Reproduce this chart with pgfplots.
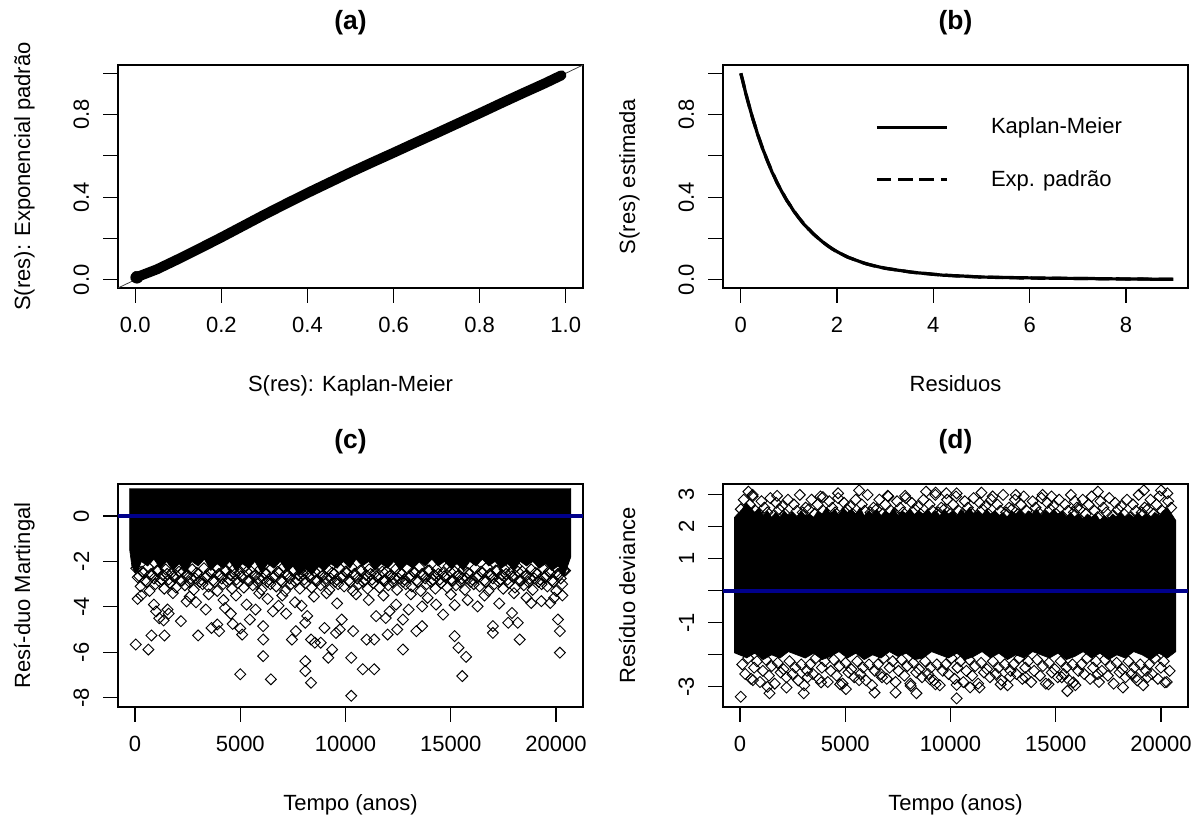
\documentclass[border=0pt]{standalone}
\usepackage{fontspec}
\setmainfont{Liberation Sans}
\usepackage{pgfplots}
\pgfplotsset{compat=1.18}
\definecolor{rblue}{RGB}{0,0,139}
\pgfplotsset{
 rpanel/.style={
  scale only axis, width=348.75pt, height=167.25pt, anchor=south west,
  axis line style={line width=0.9pt},
  tick align=outside, xtick pos=left, ytick pos=left,
  major tick length=10.9pt,
  every tick/.style={black, line width=0.9pt},
  minor tick num=0, scaled x ticks=false, scaled y ticks=false,
  xticklabel style={anchor=base, inner sep=0pt, yshift=-22.6pt},
  yticklabel style={inner sep=0pt, xshift=-10.5pt, rotate=90, anchor=south},
  every axis title/.style={at={(axis description cs:0.5,1.157)}, anchor=base, font=\bfseries\fontsize{19.8}{24}\selectfont},
  every axis x label/.style={at={(axis description cs:0.5,-0.465)}, anchor=base},
  every axis y label/.style={at={(axis description cs:-0.189,0.5)}, rotate=90, anchor=base},
 },
 rdia/.style={black, only marks, mark=square, mark size=2.9pt, mark options={rotate=45, line width=0.7pt, solid}},
}
\begin{document}
\fontsize{16.5}{19.8}\selectfont
\begin{tikzpicture}
\path[use as bounding box] (0,0) rectangle (899.25pt,615pt);
% ---------------- (a)
\begin{axis}[rpanel, at={(88.5pt,399pt)},
 xmin=-0.04, xmax=1.04, ymin=-0.04, ymax=1.04,
 xtick={0,0.2,0.4,0.6,0.8,1}, xticklabels={0.0,0.2,0.4,0.6,0.8,1.0},
 ytick={0,0.2,0.4,0.6,0.8,1}, yticklabels={0.0,,0.4,,0.8,},
 title={(a)}, xlabel={S(res): Kaplan-Meier}, ylabel={S(res): Exponencial padrão}]
\addplot[black!75, line width=0.6pt] coordinates {(-0.04,-0.04) (1.04,1.04)};
\addplot[black, line width=7.5pt, line cap=round, line join=round] coordinates {(0,0.01) (0.05,0.05) (0.1,0.1) (0.15,0.152) (0.2,0.205) (0.25,0.26) (0.3,0.315) (0.35,0.368) (0.4,0.42) (0.45,0.47) (0.5,0.52) (0.55,0.568) (0.6,0.615) (0.65,0.663) (0.7,0.71) (0.75,0.758) (0.8,0.806) (0.85,0.855) (0.9,0.903) (0.95,0.95) (0.99,0.99)};
\addplot[black, only marks, mark=*, mark size=4.5pt] coordinates {(0.004,0.012)};
\end{axis}
% ---------------- (b)
\begin{axis}[rpanel, at={(542.25pt,399pt)},
 xmin=-0.37, xmax=9.29, ymin=-0.04, ymax=1.04,
 xtick={0,2,4,6,8}, xticklabels={0,2,4,6,8},
 ytick={0,0.2,0.4,0.6,0.8,1}, yticklabels={0.0,,0.4,,0.8,},
 title={(b)}, xlabel={Residuos}, ylabel={S(res) estimada},
 legend image code/.code={\draw[#1] (0pt,0pt) -- (53pt,0pt);},
 legend style={at={(axis cs:2.786,0.611)}, anchor=west, draw=none, fill=none, inner sep=0pt, row sep=25pt, nodes={inner sep=0pt}, font=\fontsize{16.5}{19.8}\selectfont},
 legend cell align=left]
\addplot[black, line width=2.4pt, line join=round] coordinates {(0,1) (0.05,0.955) (0.1,0.905) (0.15,0.862) (0.2,0.82) (0.25,0.778) (0.3,0.743) (0.35,0.703) (0.4,0.672) (0.45,0.636) (0.5,0.608) (0.55,0.577) (0.6,0.55) (0.65,0.52) (0.7,0.498) (0.75,0.47) (0.8,0.45) (0.85,0.427) (0.9,0.408) (0.95,0.385) (1.0,0.37) (1.1,0.332) (1.2,0.302) (1.3,0.271) (1.4,0.248) (1.5,0.223) (1.6,0.203) (1.7,0.183) (1.8,0.166) (1.9,0.149) (2.0,0.136) (2.2,0.111) (2.4,0.094) (2.6,0.077) (2.8,0.066) (3.0,0.055) (3.3,0.045) (3.6,0.035) (3.9,0.029) (4.2,0.022) (4.6,0.018) (5.0,0.013) (5.5,0.011) (6.0,0.009) (6.6,0.007) (7.2,0.006) (7.8,0.004) (8.4,0.003) (8.97,0.002)};
\addlegendentry{\hspace*{31.5pt}Kaplan-Meier}
\addplot[black, line width=2.4pt, dash pattern=on 11pt off 5pt] coordinates {(0,1) (0.1,0.905) (0.2,0.819) (0.3,0.741) (0.4,0.670) (0.5,0.607) (0.6,0.549) (0.7,0.497) (0.8,0.449) (0.9,0.407) (1.0,0.368) (1.2,0.301) (1.4,0.247) (1.6,0.202) (1.8,0.165) (2.0,0.135) (2.25,0.107) (2.5,0.085) (2.75,0.068) (3.0,0.056) (3.5,0.038) (4.0,0.026) (4.5,0.018) (5.0,0.013) (5.5,0.010) (6.0,0.008) (7.0,0.006) (8.0,0.004) (9.0,0.002)};
\addlegendentry{\hspace*{31.5pt}Exp. padrão}
\end{axis}
% ---------------- (c)
\begin{axis}[rpanel, at={(88.5pt,84.75pt)},
 xmin=-807, xmax=21280, ymin=-8.41, ymax=1.41,
 xtick={0,5000,10000,15000,20000}, xticklabels={0,5000,10000,15000,20000},
 ytick={-8,-6,-4,-2,0}, yticklabels={-8,-6,-4,-2,0},
 title={(c)}, xlabel={Tempo (anos)}, ylabel={Resí-duo Martingal}]
\addplot[black, fill=black, line width=0.5pt] coordinates {(-250,1.22) (-250,-1.5) (-150,-2.2) (0,-2.5) (150,-2.4) (300,-2.0) (600,-2.2) (900,-1.9) (1200,-2.3) (1500,-2.0) (1800,-2.4) (2100,-2.1) (2400,-2.5) (2700,-2.0) (3000,-2.2) (3300,-1.9) (3600,-2.4) (3900,-2.1) (4200,-2.3) (4500,-2.0) (4800,-2.4) (5100,-2.1) (5400,-2.3) (5700,-2.0) (6000,-2.5) (6300,-2.1) (6600,-2.3) (6900,-2.0) (7200,-2.4) (7500,-2.2) (7800,-2.6) (8100,-2.3) (8400,-2.6) (8700,-2.2) (9000,-2.4) (9300,-2.1) (9600,-2.3) (9900,-2.0) (10200,-2.3) (10500,-1.9) (10800,-2.2) (11100,-2.0) (11400,-2.4) (11700,-2.1) (12000,-2.3) (12300,-2.0) (12600,-2.4) (12900,-2.1) (13200,-2.3) (13500,-2.0) (13800,-2.2) (14100,-1.9) (14400,-2.2) (14700,-2.0) (15000,-2.3) (15300,-2.1) (15600,-2.4) (15900,-2.0) (16200,-2.2) (16500,-1.9) (16800,-2.2) (17100,-2.0) (17400,-2.3) (17700,-2.1) (18000,-2.4) (18300,-2.0) (18600,-2.2) (18900,-2.0) (19200,-2.3) (19500,-2.1) (19800,-2.4) (20100,-2.2) (20400,-2.6) (20700,-1.8) (20700,1.22)};
\addplot[rdia] table[row sep=\\] {x y\\
60 -2.3\\ 200 -2.65\\ 340 -2.45\\ 480 -2.85\\ 620 -2.25\\ 760 -2.55\\ 900 -2.75\\ 1040 -2.4\\ 1180 -2.9\\ 1320 -2.6\\ 1460 -2.35\\ 1600 -2.8\\ 1740 -2.5\\ 1880 -2.7\\ 2020 -2.2\\ 2160 -2.85\\ 2300 -2.45\\ 2440 -2.65\\ 2580 -2.9\\ 2720 -2.35\\ 2860 -2.75\\ 3000 -2.55\\ 3140 -2.8\\
3280 -2.3\\ 3420 -2.65\\ 3560 -2.45\\ 3700 -2.85\\ 3840 -2.25\\ 3980 -2.55\\ 4120 -2.75\\ 4260 -2.4\\ 4400 -2.9\\ 4540 -2.6\\ 4680 -2.35\\ 4820 -2.8\\ 4960 -2.5\\ 5100 -2.7\\ 5240 -2.2\\ 5380 -2.85\\ 5520 -2.45\\ 5660 -2.65\\ 5800 -2.9\\ 5940 -2.35\\ 6080 -2.75\\ 6220 -2.55\\ 6360 -2.8\\
6500 -2.3\\ 6640 -2.65\\ 6780 -2.45\\ 6920 -2.85\\ 7060 -2.25\\ 7200 -2.55\\ 7340 -2.75\\ 7480 -2.4\\ 7620 -2.9\\ 7760 -2.6\\ 7900 -2.35\\ 8040 -2.8\\ 8180 -2.5\\ 8320 -2.7\\ 8460 -2.2\\ 8600 -2.85\\ 8740 -2.45\\ 8880 -2.65\\ 9020 -2.9\\ 9160 -2.35\\ 9300 -2.75\\ 9440 -2.55\\ 9580 -2.8\\
9720 -2.3\\ 9860 -2.65\\ 10000 -2.45\\ 10140 -2.85\\ 10280 -2.25\\ 10420 -2.55\\ 10560 -2.75\\ 10700 -2.4\\ 10840 -2.9\\ 10980 -2.6\\ 11120 -2.35\\ 11260 -2.8\\ 11400 -2.5\\ 11540 -2.7\\ 11680 -2.2\\ 11820 -2.85\\ 11960 -2.45\\ 12100 -2.65\\ 12240 -2.9\\ 12380 -2.35\\ 12520 -2.75\\ 12660 -2.55\\ 12800 -2.8\\
12940 -2.3\\ 13080 -2.65\\ 13220 -2.45\\ 13360 -2.85\\ 13500 -2.25\\ 13640 -2.55\\ 13780 -2.75\\ 13920 -2.4\\ 14060 -2.9\\ 14200 -2.6\\ 14340 -2.35\\ 14480 -2.8\\ 14620 -2.5\\ 14760 -2.7\\ 14900 -2.2\\ 15040 -2.85\\ 15180 -2.45\\ 15320 -2.65\\ 15460 -2.9\\ 15600 -2.35\\ 15740 -2.75\\ 15880 -2.55\\ 16020 -2.8\\
16160 -2.3\\ 16300 -2.65\\ 16440 -2.45\\ 16580 -2.85\\ 16720 -2.25\\ 16860 -2.55\\ 17000 -2.75\\ 17140 -2.4\\ 17280 -2.9\\ 17420 -2.6\\ 17560 -2.35\\ 17700 -2.8\\ 17840 -2.5\\ 17980 -2.7\\ 18120 -2.2\\ 18260 -2.85\\ 18400 -2.45\\ 18540 -2.65\\ 18680 -2.9\\ 18820 -2.35\\ 18960 -2.75\\ 19100 -2.55\\ 19240 -2.8\\
19380 -2.3\\ 19520 -2.65\\ 19660 -2.45\\ 19800 -2.85\\ 19940 -2.25\\ 20080 -2.55\\ 20220 -2.75\\ 20360 -2.4\\
130 -2.7\\ 270 -3.1\\ 410 -2.5\\ 550 -2.9\\ 690 -3.3\\ 830 -2.6\\ 970 -3.0\\ 1110 -2.4\\ 1250 -2.8\\ 1390 -3.2\\ 1530 -2.55\\ 1670 -2.95\\ 1810 -2.65\\ 1950 -3.15\\ 2090 -2.45\\ 2230 -2.85\\ 2370 -3.05\\ 2510 -2.6\\ 2650 -2.75\\ 2790 -3.25\\ 2930 -2.5\\ 3070 -2.9\\ 3210 -3.0\\
3350 -2.7\\ 3490 -3.1\\ 3630 -2.5\\ 3770 -2.9\\ 3910 -3.3\\ 4050 -2.6\\ 4190 -3.0\\ 4330 -2.4\\ 4470 -2.8\\ 4610 -3.2\\ 4750 -2.55\\ 4890 -2.95\\ 5030 -2.65\\ 5170 -3.15\\ 5310 -2.45\\ 5450 -2.85\\ 5590 -3.05\\ 5730 -2.6\\ 5870 -2.75\\ 6010 -3.25\\ 6150 -2.5\\ 6290 -2.9\\ 6430 -3.0\\
6570 -2.7\\ 6710 -3.1\\ 6850 -2.5\\ 6990 -2.9\\ 7130 -3.3\\ 7270 -2.6\\ 7410 -3.0\\ 7550 -2.4\\ 7690 -2.8\\ 7830 -3.2\\ 7970 -2.55\\ 8110 -2.95\\ 8250 -2.65\\ 8390 -3.15\\ 8530 -2.45\\ 8670 -2.85\\ 8810 -3.05\\ 8950 -2.6\\ 9090 -2.75\\ 9230 -3.25\\ 9370 -2.5\\ 9510 -2.9\\ 9650 -3.0\\
9790 -2.7\\ 9930 -3.1\\ 10070 -2.5\\ 10210 -2.9\\ 10350 -3.3\\ 10490 -2.6\\ 10630 -3.0\\ 10770 -2.4\\ 10910 -2.8\\ 11050 -3.2\\ 11190 -2.55\\ 11330 -2.95\\ 11470 -2.65\\ 11610 -3.15\\ 11750 -2.45\\ 11890 -2.85\\ 12030 -3.05\\ 12170 -2.6\\ 12310 -2.75\\ 12450 -3.25\\ 12590 -2.5\\ 12730 -2.9\\ 12870 -3.0\\
13010 -2.7\\ 13150 -3.1\\ 13290 -2.5\\ 13430 -2.9\\ 13570 -3.3\\ 13710 -2.6\\ 13850 -3.0\\ 13990 -2.4\\ 14130 -2.8\\ 14270 -3.2\\ 14410 -2.55\\ 14550 -2.95\\ 14690 -2.65\\ 14830 -3.15\\ 14970 -2.45\\ 15110 -2.85\\ 15250 -3.05\\ 15390 -2.6\\ 15530 -2.75\\ 15670 -3.25\\ 15810 -2.5\\ 15950 -2.9\\ 16090 -3.0\\
16230 -2.7\\ 16370 -3.1\\ 16510 -2.5\\ 16650 -2.9\\ 16790 -3.3\\ 16930 -2.6\\ 17070 -3.0\\ 17210 -2.4\\ 17350 -2.8\\ 17490 -3.2\\ 17630 -2.55\\ 17770 -2.95\\ 17910 -2.65\\ 18050 -3.15\\ 18190 -2.45\\ 18330 -2.85\\ 18470 -3.05\\ 18610 -2.6\\ 18750 -2.75\\ 18890 -3.25\\ 19030 -2.5\\ 19170 -2.9\\ 19310 -3.0\\
19450 -2.7\\ 19590 -3.1\\ 19730 -2.5\\ 19870 -2.9\\ 20010 -3.3\\ 20150 -2.6\\ 20290 -3.0\\ 20430 -2.4\\
36 -5.66\\ 127 -3.65\\ 636 -5.88\\ 782 -5.26\\ 1000 -4.2\\ 1150 -4.5\\ 1400 -5.26\\ 1545 -4.12\\ 1600 -4.3\\ 1360 -4.6\\ 2182 -4.63\\ 2455 -3.76\\ 3000 -5.26\\ 3363 -4.12\\ 3636 -4.93\\ 3909 -4.78\\ 4000 -5.07\\ 4272 -4.05\\ 4550 -4.3\\ 4640 -4.75\\ 5000 -6.97\\ 5000 -4.95\\ 5090 -5.22\\ 5454 -4.56\\ 5727 -4.12\\ 6090 -6.17\\ 6090 -5.44\\ 6090 -4.85\\ 6454 -7.19\\ 6550 -4.2\\ 6820 -3.95\\ 7180 -4.3\\ 7454 -5.44\\ 7640 -5.07\\ 7910 -3.95\\ 8090 -6.39\\ 8090 -6.83\\ 8090 -4.7\\ 8180 -4.4\\ 8363 -7.34\\ 8363 -5.44\\ 8545 -5.58\\ 8820 -5.58\\ 9000 -4.93\\ 9181 -6.24\\ 9363 -5.88\\ 9545 -5.15\\ 9727 -5.0\\ 9818 -4.56\\ 10272 -6.24\\ 10272 -7.92\\ 10363 -5.07\\ 10818 -6.75\\ 11000 -5.44\\ 11363 -6.75\\ 11363 -5.44\\ 11454 -4.41\\ 11909 -4.49\\ 12000 -5.22\\ 12090 -4.2\\ 12454 -5.0\\ 12727 -5.88\\ 12727 -4.56\\ 13000 -4.12\\ 13363 -5.07\\ 13636 -4.85\\ 13636 -3.98\\ 14636 -4.34\\ 15181 -3.92\\ 15181 -5.29\\ 15363 -5.8\\ 15545 -7.05\\ 15727 -6.2\\ 16272 -3.98\\ 17000 -5.15\\ 17000 -4.85\\ 17727 -4.7\\ 17909 -4.27\\ 18181 -4.7\\ 18272 -5.44\\ 18818 -3.83\\ 19727 -3.83\\ 20090 -4.56\\ 20181 -5.07\\ 20181 -6.02\\ 19909 -3.6\\
300 -3.5\\ 900 -3.9\\ 1800 -3.4\\ 2600 -3.55\\ 2900 -3.8\\ 3500 -3.45\\ 4200 -3.7\\ 4800 -3.5\\ 5300 -3.9\\ 5900 -3.4\\ 6300 -3.65\\ 7000 -3.5\\ 7600 -3.8\\ 8500 -3.55\\ 9100 -3.4\\ 9600 -3.85\\ 10500 -3.45\\ 11100 -3.7\\ 11800 -3.5\\ 12400 -3.9\\ 13100 -3.45\\ 13900 -3.6\\ 14300 -3.9\\ 15000 -3.45\\ 15800 -3.7\\ 16600 -3.5\\ 17300 -3.85\\ 18000 -3.4\\ 18600 -3.6\\ 19300 -3.75\\ 20300 -3.5\\
};
\addplot[rblue, line width=3.5pt] coordinates {(-807,0) (21280,0)};
\end{axis}
% ---------------- (d)
\begin{axis}[rpanel, at={(542.25pt,84.75pt)},
 xmin=-807, xmax=21280, ymin=-3.63, ymax=3.34,
 xtick={0,5000,10000,15000,20000}, xticklabels={0,5000,10000,15000,20000},
 ytick={-3,-2,-1,0,1,2,3}, yticklabels={-3,,-1,,1,2,3},
 title={(d)}, xlabel={Tempo (anos)}, ylabel={Resíduo deviance}]
\addplot[black, fill=black, line width=0.5pt] coordinates {(-260,-1.95) (-260,2.3) (100,2.55) (300,2.75) (500,2.6) (700,2.45) (900,2.6) (1100,2.35) (1300,2.5) (1500,2.3) (1700,2.45) (1900,2.3) (2100,2.5) (2300,2.35) (2500,2.45) (2700,2.3) (2900,2.5) (3100,2.35) (3300,2.4) (3500,2.3) (3700,2.5) (3900,2.4) (4100,2.6) (4300,2.4) (4500,2.55) (4700,2.35) (4900,2.6) (5100,2.45) (5300,2.55) (5500,2.4) (5700,2.6) (5900,2.35) (6100,2.5) (6300,2.4) (6500,2.55) (6700,2.35) (6900,2.5) (7100,2.4) (7300,2.6) (7500,2.35) (7700,2.5) (7900,2.4) (8100,2.55) (8300,2.35) (8500,2.5) (8700,2.4) (8900,2.55) (9100,2.4) (9300,2.5) (9500,2.35) (9700,2.55) (9900,2.4) (10100,2.5) (10300,2.35) (10500,2.55) (10700,2.4) (10900,2.6) (11100,2.4) (11300,2.5) (11500,2.35) (11700,2.55) (11900,2.4) (12100,2.5) (12300,2.35) (12500,2.45) (12700,2.3) (12900,2.5) (13100,2.4) (13300,2.55) (13500,2.35) (13700,2.5) (13900,2.4) (14100,2.55) (14300,2.35) (14500,2.5) (14700,2.4) (14900,2.55) (15100,2.4) (15300,2.5) (15500,2.3) (15700,2.45) (15900,2.3) (16100,2.4) (16300,2.25) (16500,2.4) (16700,2.3) (16900,2.4) (17100,2.2) (17300,2.35) (17500,2.25) (17700,2.4) (17900,2.3) (18100,2.45) (18300,2.3) (18500,2.4) (18700,2.3) (18900,2.45) (19100,2.3) (19300,2.4) (19500,2.3) (19700,2.45) (19900,2.35) (20100,2.5) (20300,2.6) (20500,2.4) (20700,2.2) (20700,-1.9) (20300,-2.1) (19900,-1.95) (19500,-2.15) (19100,-2.0) (18700,-1.9) (18300,-2.1) (17900,-2.0) (17500,-2.15) (17100,-1.95) (16700,-2.1) (16300,-1.9) (15900,-2.05) (15500,-2.15) (15100,-1.95) (14700,-2.1) (14300,-2.0) (13900,-1.9) (13500,-2.1) (13100,-2.0) (12700,-2.15) (12300,-1.95) (11900,-2.1) (11500,-1.9) (11100,-2.05) (10700,-2.15) (10300,-1.95) (9900,-2.1) (9500,-2.0) (9100,-1.9) (8700,-2.1) (8300,-2.15) (7900,-1.95) (7500,-2.05) (7100,-1.9) (6700,-2.1) (6300,-2.0) (5900,-2.15) (5500,-1.95) (5100,-2.1) (4700,-1.9) (4300,-2.05) (3900,-2.15) (3500,-1.95) (3100,-2.1) (2700,-2.0) (2300,-1.9) (1900,-2.1) (1500,-2.0) (1100,-2.15) (700,-1.95) (300,-2.1)};
\addplot[rdia] table[row sep=\\] {x y\\
40 2.55\\ 180 2.85\\ 320 2.4\\ 460 2.7\\ 600 2.95\\ 740 2.5\\ 880 2.3\\ 1020 2.8\\ 1160 2.6\\ 1300 2.45\\ 1440 2.9\\ 1580 2.35\\ 1720 2.75\\ 1860 2.55\\ 2000 2.65\\ 2140 2.4\\ 2280 2.85\\ 2420 2.3\\ 2560 2.7\\ 2700 2.5\\ 2840 3.0\\ 2980 2.45\\ 3120 2.6\\
3260 2.55\\ 3400 2.85\\ 3540 2.4\\ 3680 2.7\\ 3820 2.95\\ 3960 2.5\\ 4100 2.3\\ 4240 2.8\\ 4380 2.6\\ 4520 2.45\\ 4660 2.9\\ 4800 2.35\\ 4940 2.75\\ 5080 2.55\\ 5220 2.65\\ 5360 2.4\\ 5500 2.85\\ 5640 2.3\\ 5780 2.7\\ 5920 2.5\\ 6060 3.0\\ 6200 2.45\\ 6340 2.6\\
6480 2.55\\ 6620 2.85\\ 6760 2.4\\ 6900 2.7\\ 7040 2.95\\ 7180 2.5\\ 7320 2.3\\ 7460 2.8\\ 7600 2.6\\ 7740 2.45\\ 7880 2.9\\ 8020 2.35\\ 8160 2.75\\ 8300 2.55\\ 8440 2.65\\ 8580 2.4\\ 8720 2.85\\ 8860 2.3\\ 9000 2.7\\ 9140 2.5\\ 9280 3.0\\ 9420 2.45\\ 9560 2.6\\
9700 2.55\\ 9840 2.85\\ 9980 2.4\\ 10120 2.7\\ 10260 2.95\\ 10400 2.5\\ 10540 2.3\\ 10680 2.8\\ 10820 2.6\\ 10960 2.45\\ 11100 2.9\\ 11240 2.35\\ 11380 2.75\\ 11520 2.55\\ 11660 2.65\\ 11800 2.4\\ 11940 2.85\\ 12080 2.3\\ 12220 2.7\\ 12360 2.5\\ 12500 3.0\\ 12640 2.45\\ 12780 2.6\\
12920 2.55\\ 13060 2.85\\ 13200 2.4\\ 13340 2.7\\ 13480 2.95\\ 13620 2.5\\ 13760 2.3\\ 13900 2.8\\ 14040 2.6\\ 14180 2.45\\ 14320 2.9\\ 14460 2.35\\ 14600 2.75\\ 14740 2.55\\ 14880 2.65\\ 15020 2.4\\ 15160 2.85\\ 15300 2.3\\ 15440 2.7\\ 15580 2.5\\ 15720 3.0\\ 15860 2.45\\ 16000 2.6\\
16140 2.55\\ 16280 2.85\\ 16420 2.4\\ 16560 2.7\\ 16700 2.95\\ 16840 2.5\\ 16980 2.3\\ 17120 2.8\\ 17260 2.6\\ 17400 2.45\\ 17540 2.9\\ 17680 2.35\\ 17820 2.75\\ 17960 2.55\\ 18100 2.65\\ 18240 2.4\\ 18380 2.85\\ 18520 2.3\\ 18660 2.7\\ 18800 2.5\\ 18940 3.0\\ 19080 2.45\\ 19220 2.6\\
19360 2.55\\ 19500 2.85\\ 19640 2.4\\ 19780 2.7\\ 19920 2.95\\ 20060 2.5\\ 20200 2.3\\ 20340 2.8\\ 20480 2.6\\
110 -2.3\\ 250 -2.6\\ 390 -2.1\\ 530 -2.75\\ 670 -2.4\\ 810 -2.2\\ 950 -2.85\\ 1090 -2.5\\ 1230 -2.15\\ 1370 -2.65\\ 1510 -2.35\\ 1650 -2.9\\ 1790 -2.25\\ 1930 -2.55\\ 2070 -2.45\\ 2210 -2.7\\ 2350 -2.2\\ 2490 -2.6\\ 2630 -2.4\\ 2770 -2.8\\ 2910 -2.3\\ 3050 -2.95\\ 3190 -2.5\\
3330 -2.3\\ 3470 -2.6\\ 3610 -2.1\\ 3750 -2.75\\ 3890 -2.4\\ 4030 -2.2\\ 4170 -2.85\\ 4310 -2.5\\ 4450 -2.15\\ 4590 -2.65\\ 4730 -2.35\\ 4870 -2.9\\ 5010 -2.25\\ 5150 -2.55\\ 5290 -2.45\\ 5430 -2.7\\ 5570 -2.2\\ 5710 -2.6\\ 5850 -2.4\\ 5990 -2.8\\ 6130 -2.3\\ 6270 -2.95\\ 6410 -2.5\\
6550 -2.3\\ 6690 -2.6\\ 6830 -2.1\\ 6970 -2.75\\ 7110 -2.4\\ 7250 -2.2\\ 7390 -2.85\\ 7530 -2.5\\ 7670 -2.15\\ 7810 -2.65\\ 7950 -2.35\\ 8090 -2.9\\ 8230 -2.25\\ 8370 -2.55\\ 8510 -2.45\\ 8650 -2.7\\ 8790 -2.2\\ 8930 -2.6\\ 9070 -2.4\\ 9210 -2.8\\ 9350 -2.3\\ 9490 -2.95\\ 9630 -2.5\\
9770 -2.3\\ 9910 -2.6\\ 10050 -2.1\\ 10190 -2.75\\ 10330 -2.4\\ 10470 -2.2\\ 10610 -2.85\\ 10750 -2.5\\ 10890 -2.15\\ 11030 -2.65\\ 11170 -2.35\\ 11310 -2.9\\ 11450 -2.25\\ 11590 -2.55\\ 11730 -2.45\\ 11870 -2.7\\ 12010 -2.2\\ 12150 -2.6\\ 12290 -2.4\\ 12430 -2.8\\ 12570 -2.3\\ 12710 -2.95\\ 12850 -2.5\\
12990 -2.3\\ 13130 -2.6\\ 13270 -2.1\\ 13410 -2.75\\ 13550 -2.4\\ 13690 -2.2\\ 13830 -2.85\\ 13970 -2.5\\ 14110 -2.15\\ 14250 -2.65\\ 14390 -2.35\\ 14530 -2.9\\ 14670 -2.25\\ 14810 -2.55\\ 14950 -2.45\\ 15090 -2.7\\ 15230 -2.2\\ 15370 -2.6\\ 15510 -2.4\\ 15650 -2.8\\ 15790 -2.3\\ 15930 -2.95\\ 16070 -2.5\\
16210 -2.3\\ 16350 -2.6\\ 16490 -2.1\\ 16630 -2.75\\ 16770 -2.4\\ 16910 -2.2\\ 17050 -2.85\\ 17190 -2.5\\ 17330 -2.15\\ 17470 -2.65\\ 17610 -2.35\\ 17750 -2.9\\ 17890 -2.25\\ 18030 -2.55\\ 18170 -2.45\\ 18310 -2.7\\ 18450 -2.2\\ 18590 -2.6\\ 18730 -2.4\\ 18870 -2.8\\ 19010 -2.3\\ 19150 -2.95\\ 19290 -2.5\\
19430 -2.3\\ 19570 -2.6\\ 19710 -2.1\\ 19850 -2.75\\ 19990 -2.4\\ 20130 -2.2\\ 20270 -2.85\\ 20410 -2.5\\
400 3.1\\ 1760 2.97\\ 3940 2.93\\ 4660 3.05\\ 5660 3.14\\ 7020 2.97\\ 7840 2.97\\ 8840 3.1\\ 9290 3.07\\ 10290 3.05\\ 11470 3.07\\ 13100 3.0\\ 14370 3.0\\ 17000 3.1\\ 19180 3.14\\ 20000 3.14\\ 15900 2.8\\ 20300 3.05\\ 600 3.0\\ 9800 3.05\\ 12000 2.95\\ 14800 2.95\\
36 -3.31\\ 617 -2.79\\ 1307 -3.0\\ 1400 -3.2\\ 2210 -3.02\\ 3030 -3.2\\ 3210 -2.7\\ 3850 -2.86\\ 4755 -2.92\\ 5030 -3.07\\ 5660 -2.79\\ 6390 -3.18\\ 6750 -2.7\\ 7390 -3.18\\ 8110 -2.97\\ 8380 -3.2\\ 9020 -2.76\\ 9290 -2.92\\ 10290 -3.36\\ 10290 -2.94\\ 10930 -3.02\\ 11380 -3.02\\ 12380 -2.92\\ 12830 -2.68\\ 13560 -2.7\\ 14650 -2.92\\ 15280 -2.7\\ 15550 -3.13\\ 15830 -2.86\\ 17000 -2.6\\ 18190 -3.02\\ 18820 -2.7\\ 19360 -2.7\\ 20180 -2.86\\
};
\addplot[rblue, line width=3.5pt] coordinates {(-807,0) (21280,0)};
\end{axis}
\end{tikzpicture}
\end{document}
